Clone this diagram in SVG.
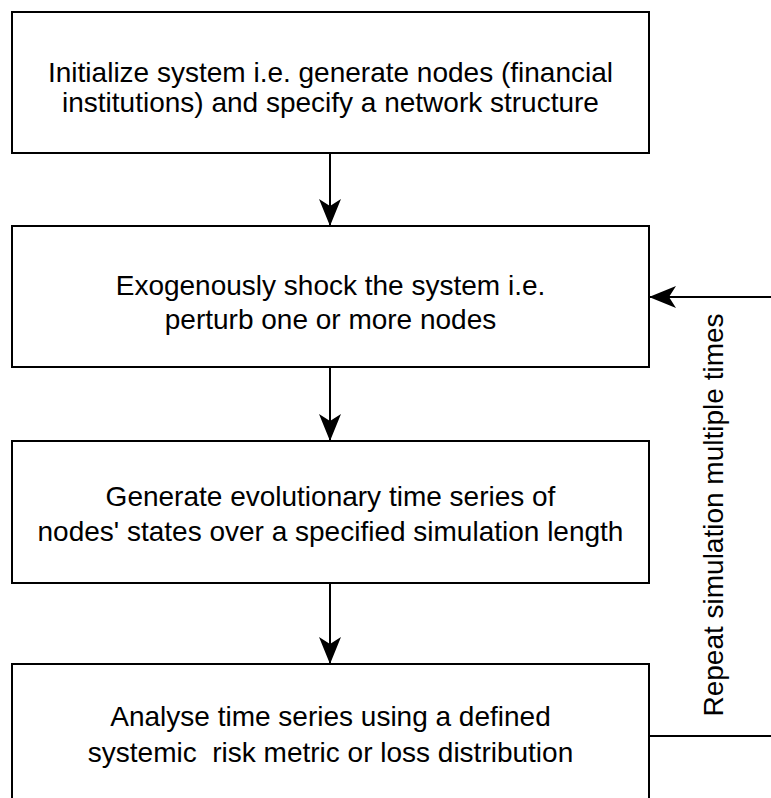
<svg xmlns="http://www.w3.org/2000/svg" width="771" height="798" viewBox="0 0 771 798">
<style>
.box{fill:#fff;stroke:#000;stroke-width:2}
.lbl{font-family:"Liberation Sans",Arial,sans-serif;font-size:28px;fill:#000;text-anchor:middle;white-space:pre}
.edge{fill:none;stroke:#000;stroke-width:2}
</style>
<defs>
<marker id="ah" viewBox="0 0 27 22" refX="27" refY="11" markerWidth="27" markerHeight="22" markerUnits="userSpaceOnUse" orient="auto">
<path d="M0,0 L27,11 L0,22 L7,11 Z" fill="#000"/>
</marker>
</defs>
<rect width="771" height="798" fill="#fff"/>
<g id="n1">
<rect class="box" x="12" y="12" width="637" height="141"/>
<text class="lbl" x="330.5" y="82">Initialize system i.e. generate nodes (financial</text>
<text class="lbl" x="330.5" y="111.5">institutions) and specify a network structure</text>
</g>
<g id="n2">
<rect class="box" x="12" y="226" width="637" height="141"/>
<text class="lbl" x="330.5" y="295">Exogenously shock the system i.e.</text>
<text class="lbl" x="330.5" y="329">perturb one or more nodes</text>
</g>
<g id="n3">
<rect class="box" x="12" y="441" width="637" height="142"/>
<text class="lbl" x="330.5" y="506">Generate evolutionary time series of</text>
<text class="lbl" x="330.5" y="541">nodes' states over a specified simulation length</text>
</g>
<g id="n4">
<rect class="box" x="12" y="664" width="637" height="145"/>
<text class="lbl" x="330.5" y="726">Analyse time series using a defined</text>
<text class="lbl" x="330.5" y="761.5" xml:space="preserve">systemic  risk metric or loss distribution</text>
</g>
<g id="connectors">
<line class="edge" x1="330" y1="153" x2="330" y2="226" marker-end="url(#ah)"/>
<line class="edge" x1="330" y1="367" x2="330" y2="441" marker-end="url(#ah)"/>
<line class="edge" x1="330" y1="583" x2="330" y2="664" marker-end="url(#ah)"/>
<polyline class="edge" points="649,736 771,736"/>
<line class="edge" x1="771" y1="297" x2="649" y2="297" marker-end="url(#ah)"/>
<text class="lbl" transform="translate(723,515) rotate(-90)" x="0" y="0">Repeat simulation multiple times</text>
</g>
</svg>
